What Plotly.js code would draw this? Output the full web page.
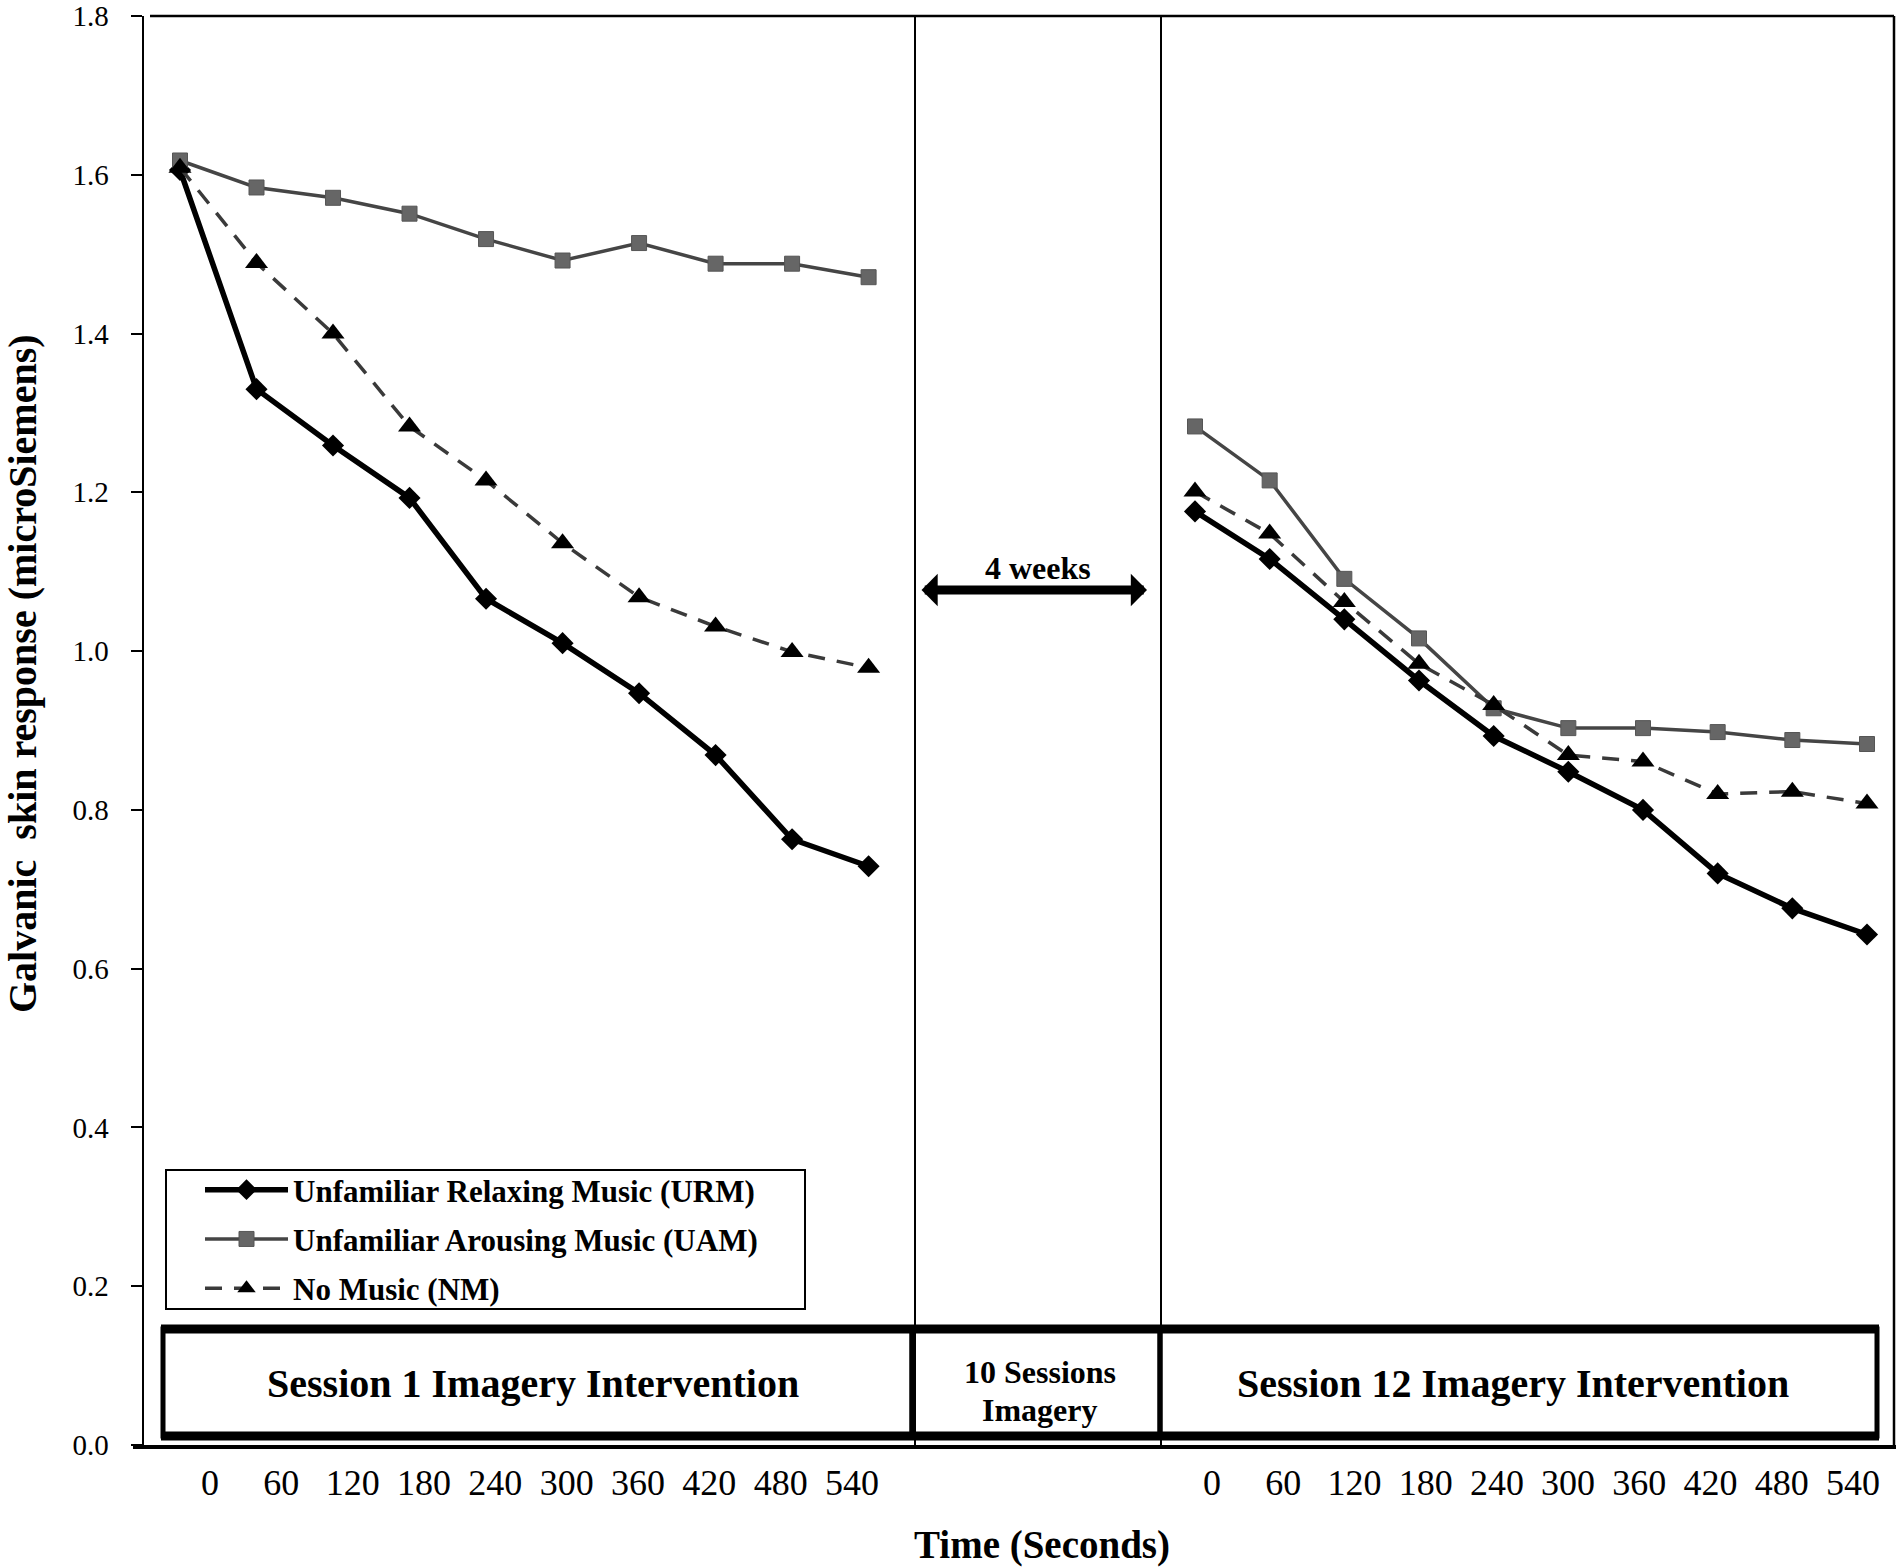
<!DOCTYPE html>
<html><head><meta charset="utf-8">
<script src="https://cdn.plot.ly/plotly-3.0.1.min.js"></script>
<style>html,body{margin:0;padding:0;background:#fff}#chart{width:1900px;height:1568px}</style>
</head><body><div id="chart"></div>
<script>
// ---- data ----
const timeSec = [0, 60, 120, 180, 240, 300, 360, 420, 480, 540];
const urmSession1 = [1.606, 1.330, 1.259, 1.193, 1.066, 1.010, 0.947, 0.869, 0.763, 0.729];
const uamSession1 = [1.618, 1.584, 1.571, 1.551, 1.519, 1.492, 1.514, 1.488, 1.488, 1.471];
const nmSession1  = [1.609, 1.489, 1.400, 1.283, 1.215, 1.136, 1.068, 1.031, 0.999, 0.979];
const urmSession12 = [1.176, 1.116, 1.040, 0.963, 0.893, 0.848, 0.800, 0.720, 0.676, 0.643];
const uamSession12 = [1.283, 1.215, 1.091, 1.016, 0.928, 0.903, 0.903, 0.898, 0.888, 0.883];
const nmSession12  = [1.201, 1.148, 1.062, 0.984, 0.932, 0.869, 0.861, 0.820, 0.823, 0.808];
const seriesNames = ['Unfamiliar Relaxing Music (URM)', 'Unfamiliar Arousing Music (UAM)', 'No Music (NM)'];
const yTicks = [0, 0.2, 0.4, 0.6, 0.8, 1.0, 1.2, 1.4, 1.6, 1.8];
const phaseLabels = ['Session 1 Imagery Intervention', '10 Sessions', 'Imagery', 'Session 12 Imagery Intervention'];

// ---- layout geometry (pixels of the 1900x1568 picture) ----
const L = 144, R = 1894, T = 16, B = 1445;
const px = p => (p - L) / (R - L);
const py = p => (B - p) / (B - T);
function axRange(d0, d1, zeroPx, endPx) {
  const k = (endPx - zeroPx) / 540;
  return [(d0 - zeroPx) / k, (d1 - zeroPx) / k];
}
const leftDom = [px(L), px(915)], rightDom = [px(1161), px(R)];
const serif = 'Liberation Serif, Times New Roman, serif';

const styles = [
  {line: {color: '#000', width: 5.5}, marker: {symbol: 'diamond', size: 17, color: '#000'}},
  {line: {color: '#454545', width: 3.5}, marker: {symbol: 'square', size: 15, color: '#666', line: {color: '#555', width: 1}}},
  {line: {color: '#3a3a3a', width: 3.5, dash: '17px,12px'}, marker: {symbol: 'triangle-up', size: 20, color: '#000'}}
];
const groups = ['urm', 'uam', 'nm'];

const s1 = [urmSession1, uamSession1, nmSession1];
const s12 = [urmSession12, uamSession12, nmSession12];
const traces = [];
s1.forEach((ys, i) => traces.push(Object.assign({
  type: 'scatter', mode: 'lines+markers', x: timeSec, y: ys, xaxis: 'x', yaxis: 'y',
  name: seriesNames[i], legendgroup: groups[i], showlegend: true, hoverinfo: 'x+y'
}, styles[i])));
s12.forEach((ys, i) => traces.push(Object.assign({
  type: 'scatter', mode: 'lines+markers', x: timeSec, y: ys, xaxis: 'x2', yaxis: 'y',
  name: seriesNames[i], legendgroup: groups[i], showlegend: false, hoverinfo: 'x+y'
}, styles[i])));
// carriers for the tick-label axes
['x3', 'x4'].forEach(a => traces.push({type: 'scatter', mode: 'markers', x: timeSec, y: timeSec.map(() => null),
  xaxis: a, yaxis: 'y', showlegend: false, hoverinfo: 'skip'}));

const hiddenAx = {showticklabels: false, showline: false, ticks: '', showgrid: false, zeroline: false, fixedrange: true};
const labelAx = {showline: false, ticks: '', showgrid: false, zeroline: false, fixedrange: true,
  tickmode: 'array', tickvals: timeSec, ticktext: timeSec.map(String), ticklabelstandoff: 13,
  tickfont: {family: serif, size: 36, color: '#000'}};

const boxTop = py(1329), boxBot = py(1436);
const shapes = [
  // legend frame
  {type: 'rect', xref: 'paper', yref: 'paper', x0: px(166), x1: px(805), y0: py(1309), y1: py(1170),
   line: {color: '#000', width: 2}, fillcolor: '#fff', layer: 'below'},
  // frame
  {type: 'line', xref: 'paper', yref: 'paper', x0: px(150), x1: 1, y0: 1, y1: 1, line: {color: '#000', width: 2.5}},
  {type: 'line', xref: 'paper', yref: 'paper', x0: 1, x1: 1, y0: 0, y1: 1, line: {color: '#000', width: 2.5}},
  {type: 'line', xref: 'paper', yref: 'paper', x0: px(133), x1: px(1896), y0: py(1447), y1: py(1447), line: {color: '#000', width: 4}},
  // phase separators
  {type: 'line', xref: 'paper', yref: 'paper', x0: px(915), x1: px(915), y0: 0, y1: 1, line: {color: '#000', width: 2}},
  {type: 'line', xref: 'paper', yref: 'paper', x0: px(1161), x1: px(1161), y0: 0, y1: 1, line: {color: '#000', width: 2}},
  // session boxes
  {type: 'rect', xref: 'paper', yref: 'paper', x0: px(163), x1: px(912), y0: boxBot, y1: boxTop, line: {color: '#000', width: 5}},
  {type: 'rect', xref: 'paper', yref: 'paper', x0: px(912), x1: px(1160), y0: boxBot, y1: boxTop, line: {color: '#000', width: 5}},
  {type: 'rect', xref: 'paper', yref: 'paper', x0: px(1160), x1: px(1877), y0: boxBot, y1: boxTop, line: {color: '#000', width: 5}},
  {type: 'line', xref: 'paper', yref: 'paper', x0: px(161), x1: px(1879), y0: boxTop, y1: boxTop, line: {color: '#000', width: 9}},
  {type: 'line', xref: 'paper', yref: 'paper', x0: px(161), x1: px(1879), y0: boxBot, y1: boxBot, line: {color: '#000', width: 9}}
];

const bold = (size) => ({family: serif, size: size, color: '#000', weight: 700});
const label = (xp, yp, text, size, extra) => Object.assign({xref: 'paper', yref: 'paper', x: px(xp), y: py(yp),
  xanchor: 'center', yanchor: 'middle', text: text, showarrow: false, font: bold(size)}, extra || {});
const annotations = [
  label(1038, 568, '4 weeks', 32),
  {xref: 'paper', yref: 'paper', x: px(1147), y: py(590), ax: -227, ay: 0, axref: 'pixel', ayref: 'pixel', text: '',
   showarrow: true, arrowhead: 1, startarrowhead: 1, arrowside: 'end+start', arrowwidth: 9, arrowsize: 0.6,
   startarrowsize: 0.6, arrowcolor: '#000', standoff: 0, startstandoff: 0},
  label(533, 1383, phaseLabels[0], 40),
  label(1040, 1372, phaseLabels[1], 32),
  label(1040, 1410, phaseLabels[2], 32),
  label(1513, 1383, phaseLabels[3], 40),
  label(1042, 1545, 'Time (Seconds)', 39),
  label(22, 674, 'Galvanic  skin response (microSiemens)', 40, {textangle: -90})
];

const layout = {
  width: 1900, height: 1568,
  margin: {l: L, r: 1900 - R, t: T, b: 1568 - B, pad: 0},
  paper_bgcolor: '#fff', plot_bgcolor: '#fff',
  showlegend: true,
  legend: {x: px(200), y: py(1163), xanchor: 'left', yanchor: 'top', bgcolor: 'rgba(0,0,0,0)',
    borderwidth: 0, font: bold(31), itemwidth: 83, traceorder: 'grouped', tracegroupgap: 6},
  xaxis: Object.assign({domain: leftDom, range: axRange(L, 915, 180, 868.6), anchor: 'y'}, hiddenAx),
  xaxis2: Object.assign({domain: rightDom, range: axRange(1161, R, 1195, 1867), anchor: 'y'}, hiddenAx),
  xaxis3: Object.assign({overlaying: 'x', range: axRange(L, 915, 210, 852), anchor: 'y', side: 'bottom'}, labelAx),
  xaxis4: Object.assign({overlaying: 'x2', range: axRange(1161, R, 1212, 1853), anchor: 'y', side: 'bottom'}, labelAx),
  yaxis: {range: [0, 1.8], tickmode: 'array', tickvals: yTicks, ticktext: yTicks.map(v => v.toFixed(1)),
    showline: true, linecolor: '#000', linewidth: 2.5, ticks: 'outside', ticklen: 11, tickwidth: 2, tickcolor: '#000',
    showgrid: false, zeroline: false, fixedrange: true, ticklabelstandoff: 16,
    tickfont: {family: serif, size: 29, color: '#000'}},
  shapes: shapes,
  annotations: annotations
};

Plotly.newPlot('chart', traces, layout, {displayModeBar: false, staticPlot: true});
</script>
</body></html>
